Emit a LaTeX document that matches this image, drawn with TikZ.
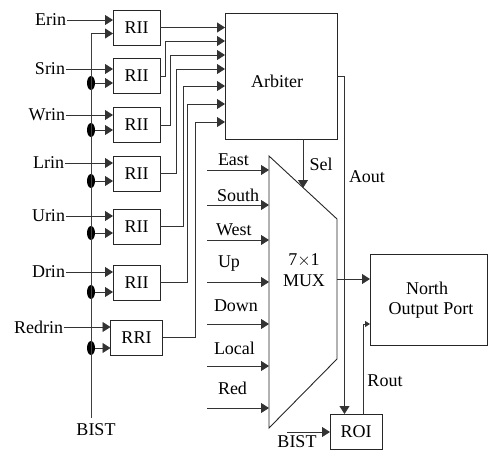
\documentclass[tikz,border=0pt]{standalone}
\usepackage{fontspec}
\setmainfont{Liberation Serif}
\usepackage{xcolor}
\usetikzlibrary{arrows.meta,positioning,shapes.geometric}

\begin{document}
\begin{tikzpicture}[
		x=1pt,y=-1pt,
		node distance=14pt,
		font=\fontsize{18}{21}\selectfont,
		line width=0.9pt,
		riibox/.style={
			rectangle,
			draw=black!85,
			line width=0.9pt,
			outer sep=0pt,
			minimum width=47pt,
			minimum height=35pt,
			inner sep=0pt
		},
		rribox/.style={
			riibox,
			minimum width=52pt
		},
		siglabel/.style={
			inner sep=0pt,
			outer sep=1pt
		},
		busdot/.style={
			ellipse,
			fill=black,
			inner sep=0pt,
			minimum width=8pt,
			minimum height=14pt
		},
		arrow/.style={
			-{Triangle[length=8pt,width=10pt]},
			draw=black!80,
			line width=0.9pt
		},
		wire/.style={
			draw=black!75,
			line width=0.9pt
		}
		]
		\useasboundingbox (0,0) rectangle (493,450);
		
		% request stage
		\node[riibox] (riiE) at (136.5,27.5) {RII};
		\node[riibox, below=13.5pt of riiE] (riiS) {RII};
		\node[riibox, below=14pt of riiS] (riiW) {RII};
		\node[riibox, below=13.5pt of riiW] (riiL) {RII};
		\node[riibox, below=18pt of riiL] (riiU) {RII};
		\node[riibox, below=21pt of riiU] (riiD) {RII};
		\node[rribox, below=20pt of riiD] (rri) {RRI};
		
		\node[siglabel, anchor=east] (erin) at (67,20) {Erin};
		\node[siglabel, anchor=east] (srin) at (66,69) {Srin};
		\node[siglabel, anchor=east] (wrin) at (66,115) {Wrin};
		\node[siglabel, anchor=east] (lrin) at (65,163) {Lrin};
		\node[siglabel, anchor=east] (urin) at (66,216) {Urin};
		\node[siglabel, anchor=east] (drin) at (66,272) {Drin};
		\node[siglabel, anchor=east] (redrin) at (64,327) {Redrin};
		\node[siglabel] (bist) at (96,430) {BIST};
		
		\coordinate (busTop) at (91,33.5);
		\coordinate (busEnd) at (91,418);
		\node[busdot] (dotS) at (91,83) {};
		\node[busdot] (dotW) at (91,130) {};
		\node[busdot] (dotL) at (91,181) {};
		\node[busdot] (dotU) at (91,233) {};
		\node[busdot] (dotD) at (91,292) {};
		\node[busdot] (dotR) at (91,348) {};
		
		\draw[wire] (busTop) -- (busEnd);
		
		\draw[arrow] (erin) -- (erin -| riiE.west);
		\draw[arrow] (srin) -- (srin -| riiS.west);
		\draw[arrow] (wrin) -- (wrin -| riiW.west);
		\draw[arrow] (lrin) -- (lrin -| riiL.west);
		\draw[arrow] (urin) -- (urin -| riiU.west);
		\draw[arrow] (drin) -- (drin -| riiD.west);
		\draw[arrow] (redrin) -- (redrin -| rri.west);
		
		\draw[arrow] (busTop) -- (busTop -| riiE.west);
		\draw[arrow] (dotS) -- (dotS -| riiS.west);
		\draw[arrow] (dotW) -- (dotW -| riiW.west);
		\draw[arrow] (dotL) -- (dotL -| riiL.west);
		\draw[arrow] (dotU) -- (dotU -| riiU.west);
		\draw[arrow] (dotD) -- (dotD -| riiD.west);
		\draw[arrow] (dotR) -- (dotR -| rri.west);
		
		% arbiter
		\node[riibox, minimum width=112pt, minimum height=126pt] (arbiter) at (281,76) {};
		\node[siglabel] (arbLbl) at (277,81) {Arbiter};
		
		\coordinate (pinS) at (225,41);
		\coordinate (pinW) at (225,55);
		\coordinate (pinL) at (225,69);
		\coordinate (pinU) at (225,86);
		\coordinate (pinD) at (225,104);
		\coordinate (pinR) at (225,122);
		
		\draw[arrow] (riiE.east) -- (riiE.east -| arbiter.west);
		\draw[arrow] (riiS.east) -- ++(5,0) |- (pinS);
		\draw[arrow] (riiW.east) -- ++(10,0) |- (pinW);
		\draw[arrow] (riiL.east) -- ++(16,0) |- (pinL);
		\draw[arrow] (riiU.east) -- ++(23,0) |- (pinU);
		\draw[arrow] (riiD.east) -- ++(27,0) |- (pinD);
		\draw[arrow] (rri.east) -- ++(33,0) |- (pinR);
		
		% mux
		\coordinate (muxTL) at (269,156);
		\coordinate (muxTR) at (337,219);
		\coordinate (muxBR) at (337,359);
		\coordinate (muxBL) at (269,428);
		\draw[black!85] (muxTL) -- (muxTR) -- (muxBR) -- (muxBL) -- cycle;
		\node[siglabel, align=center] (mux) at (304,270) {7$\times$1\\MUX};
		
		\node[siglabel, anchor=west] (eastLbl) at (217,160) {East};
		\node[siglabel, anchor=west] (southLbl) at (216,195) {South};
		\node[siglabel, anchor=west] (westLbl) at (215,230) {West};
		\node[siglabel, anchor=west] (upLbl) at (217,264) {Up};
		\node[siglabel, anchor=west] (downLbl) at (213,306) {Down};
		\node[siglabel, anchor=west] (localLbl) at (213,348) {Local};
		\node[siglabel, anchor=west] (redLbl) at (217,388) {Red};
		
		\coordinate (eastIn) at (207,170);
		\coordinate (southIn) at (207,205);
		\coordinate (westIn) at (207,240);
		\coordinate (upIn) at (207,282);
		\coordinate (downIn) at (207,324);
		\coordinate (localIn) at (207,366);
		\coordinate (redIn) at (207,408);
		
		\draw[arrow] (eastIn) -- (eastIn -| muxTL);
		\draw[arrow] (southIn) -- (southIn -| muxTL);
		\draw[arrow] (westIn) -- (westIn -| muxTL);
		\draw[arrow] (upIn) -- (upIn -| muxTL);
		\draw[arrow] (downIn) -- (downIn -| muxTL);
		\draw[arrow] (localIn) -- (localIn -| muxTL);
		\draw[arrow] (redIn) -- (redIn -| muxTL);
		
		\coordinate (selEnd) at (303,188);
		\draw[arrow] (selEnd |- arbiter.south) -- (selEnd);
		\node[siglabel] (sel) at (321,164) {Sel};
		
		% output side
		\node[riibox, minimum width=117pt, minimum height=91pt] (port) at (428.5,299.5) {};
		\node[siglabel] (north) at (427,288) {North};
		\node[siglabel] (outport) at (431,310) {Output Port};
		\node[rribox, minimum height=35.5pt] (roi) at (356,431.75) {ROI};
		
		\coordinate (muxOut) at (337,279);
		\coordinate (aoutTap) at (337,76);
		\coordinate (aoutDrop) at (344.5,76);
		\coordinate (routPin) at (370,324);
		\coordinate (routTap) at (363,414);
		\coordinate (bistIn) at (287,432);
		
		\draw[arrow] (muxOut) -- (muxOut -| port.west);
		\draw[arrow] (aoutTap) -- (aoutDrop) -- (aoutDrop |- roi.north);
		\draw[-{Triangle[length=5pt,width=6pt]}, draw=black!80] (routTap) |- (routPin);
		\draw[arrow] (bistIn) -- (bistIn -| roi.west);
		
		\node[siglabel] (aout) at (367,177) {Aout};
		\node[siglabel] (rout) at (385,381) {Rout};
		\node[siglabel] (bist2) at (297,441.5) {BIST};
		
	\end{tikzpicture}
\end{document}
